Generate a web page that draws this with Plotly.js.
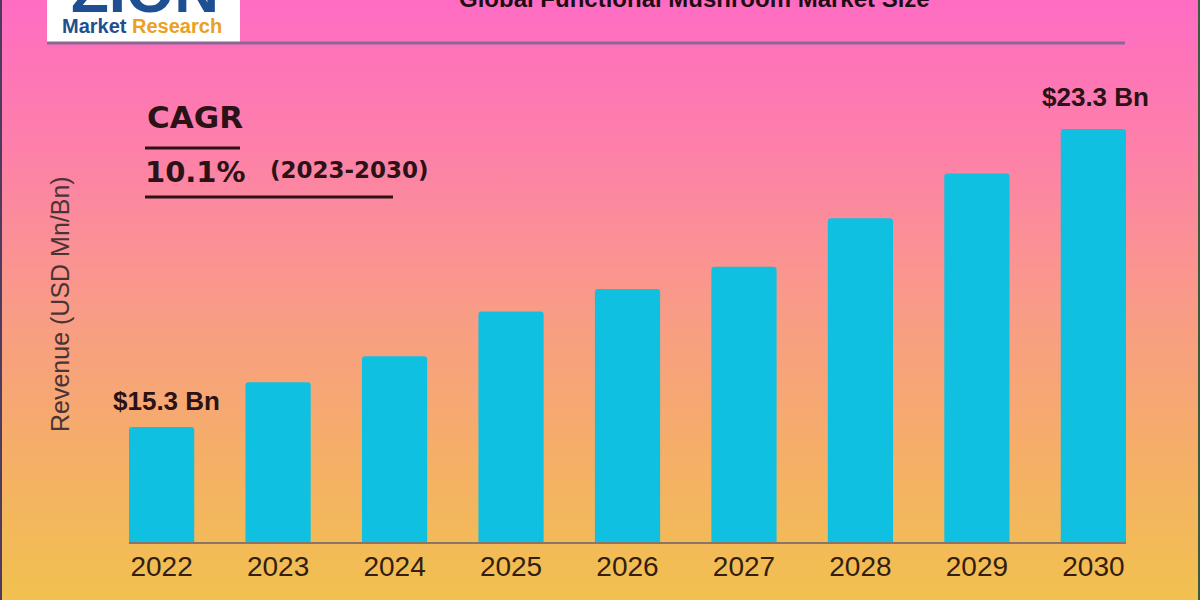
<!DOCTYPE html>
<html>
<head>
<meta charset="utf-8">
<script src="https://cdn.plot.ly/plotly-3.0.1.min.js"></script>
<style>
  html, body { margin: 0; padding: 0; }
  #chart {
    width: 1200px;
    height: 600px;
    background: linear-gradient(to bottom, #ff6cc3 0%, #fd80a9 25%, #f99a89 50%, #f5ae68 75%, #f1c14f 100%);
  }
</style>
</head>
<body>
<div id="chart"></div>
<script>
// Chart data
const years = ["2022", "2023", "2024", "2025", "2026", "2027", "2028", "2029", "2030"];
const revenue = [15.3, 16.5, 17.2, 18.4, 19.0, 19.6, 20.9, 22.1, 23.3];
const valueLabels = ["$15.3 Bn", "", "", "", "", "", "", "", "$23.3 Bn"];
const titleText = "Global Functional Mushroom Market Size";
const yTitle = "Revenue (USD Mn/Bn)";
const cagrLabel = "CAGR";
const cagrValue = "10.1%";
const cagrPeriod = "(2023-2030)";

// Plot area geometry (pixels)
const W = 1200, H = 600;
const margin = { l: 129, r: 74, t: 60, b: 58 };
const plotW = W - margin.l - margin.r;
const plotH = H - margin.t - margin.b;

// helpers: page pixels -> paper fractions
function px2x(px) { return (px - margin.l) / plotW; }
function px2y(py) { return (H - margin.b - py) / plotH; }

const darkText = "#2a1216";

const trace = {
  type: "bar",
  x: years,
  y: revenue,
  width: 0.56,
  marker: { color: "#10c0e1", line: { width: 0 } },
  hoverinfo: "x+y",
};

const annotations = [];

// value labels above first and last bar (category index for x)
years.forEach((yr, i) => {
  if (!valueLabels[i]) return;
  annotations.push({
    x: i, y: revenue[i], xref: "x", yref: "y",
    text: "<b>" + valueLabels[i] + "</b>", showarrow: false,
    yanchor: "middle", xanchor: "center",
    yshift: i === 0 ? 26 : 32, xshift: i === 0 ? 5 : 2,
    font: { family: "Liberation Sans, Arial, sans-serif", size: 26, color: darkText },
  });
});

// CAGR block
annotations.push({
  xref: "paper", yref: "paper", x: px2x(145), y: px2y(117),
  xanchor: "left", yanchor: "middle", showarrow: false,
  text: "<b>" + cagrLabel + "</b>",
  font: { family: "DejaVu Sans, sans-serif", size: 31, color: darkText },
});
annotations.push({
  xref: "paper", yref: "paper", x: px2x(143), y: px2y(172),
  xanchor: "left", yanchor: "middle", showarrow: false,
  text: "<b>" + cagrValue + "</b>",
  font: { family: "DejaVu Sans, sans-serif", size: 29, color: darkText },
});
annotations.push({
  xref: "paper", yref: "paper", x: px2x(268), y: px2y(170),
  xanchor: "left", yanchor: "middle", showarrow: false,
  text: "<b>" + cagrPeriod + "</b>",
  font: { family: "DejaVu Sans, sans-serif", size: 23, color: darkText },
});

// y axis title
annotations.push({
  xref: "paper", yref: "paper", x: px2x(60), y: px2y(304),
  xanchor: "center", yanchor: "middle", showarrow: false,
  textangle: -90, text: yTitle,
  font: { family: "Liberation Sans, Arial, sans-serif", size: 25, color: "#4a3336" },
});

// chart title, mostly cut off at the top edge
annotations.push({
  xref: "paper", yref: "paper", x: px2x(694), y: px2y(14),
  xanchor: "center", yanchor: "bottom", showarrow: false,
  text: "<b>" + titleText + "</b>",
  font: { family: "Liberation Sans, Arial, sans-serif", size: 24, color: "#1e0e14" },
});

// logo
annotations.push({
  xref: "paper", yref: "paper", x: px2x(145), y: px2y(-10),
  xanchor: "center", yanchor: "middle", showarrow: false,
  text: "<b>ZION</b>",
  font: { family: "Liberation Sans, Arial, sans-serif", size: 62, color: "#1d4f92" },
});
annotations.push({
  xref: "paper", yref: "paper", x: px2x(60), y: px2y(26),
  xanchor: "left", yanchor: "middle", showarrow: false,
  text: "<b><span style='color:#1f4f8e'>Market</span> <span style='color:#e9a023'>Research</span></b>",
  font: { family: "Liberation Sans Narrow, Liberation Sans, Arial, sans-serif", size: 20 },
});

const shapes = [
  // logo box
  { type: "rect", xref: "paper", yref: "paper", x0: px2x(47), x1: px2x(240), y0: px2y(42), y1: px2y(-2),
    fillcolor: "#ffffff", line: { width: 0 }, layer: "below" },
  // rule under header
  { type: "line", xref: "paper", yref: "paper", x0: px2x(47), x1: px2x(1125), y0: px2y(43), y1: px2y(43),
    line: { color: "#8a6893", width: 3 } },
  // CAGR rules
  { type: "line", xref: "paper", yref: "paper", x0: px2x(145), x1: px2x(240), y0: px2y(148), y1: px2y(148),
    line: { color: darkText, width: 3 } },
  { type: "line", xref: "paper", yref: "paper", x0: px2x(145), x1: px2x(393), y0: px2y(197), y1: px2y(197),
    line: { color: darkText, width: 3 } },
  // frame edges
  { type: "line", xref: "paper", yref: "paper", x0: px2x(1), x1: px2x(1), y0: px2y(0), y1: px2y(600),
    line: { color: "#4d3a5c", width: 2 } },
  { type: "line", xref: "paper", yref: "paper", x0: px2x(1199), x1: px2x(1199), y0: px2y(0), y1: px2y(600),
    line: { color: "#3d5a3a", width: 2 } },
];

const layout = {
  width: W,
  height: H,
  margin: margin,
  paper_bgcolor: "rgba(0,0,0,0)",
  plot_bgcolor: "rgba(0,0,0,0)",
  showlegend: false,
  barcornerradius: 3,
  xaxis: {
    type: "category",
    range: [-0.28, 8.28],
    showline: true,
    linecolor: "#8c7466",
    linewidth: 2,
    ticks: "",
    showgrid: false,
    tickfont: { family: "Liberation Sans, Arial, sans-serif", size: 28, color: "#331e10" },
    ticklabelstandoff: -2,
  },
  yaxis: {
    range: [12.21, 25.15],
    showticklabels: false,
    showgrid: false,
    zeroline: false,
    showline: false,
  },
  annotations: annotations,
  shapes: shapes,
};

Plotly.newPlot("chart", [trace], layout, { displayModeBar: false, staticPlot: true });
</script>
</body>
</html>
